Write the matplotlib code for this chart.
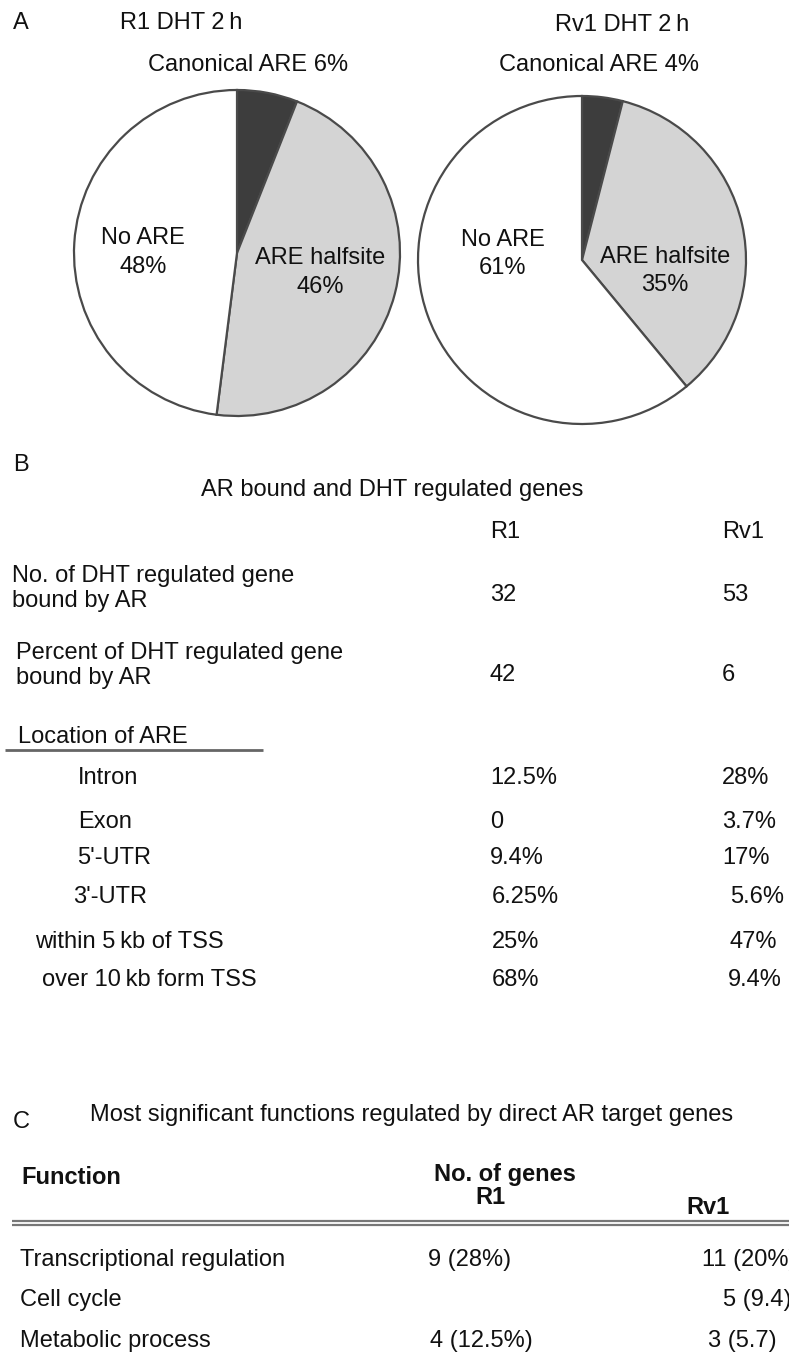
import matplotlib
matplotlib.use("Agg")
import matplotlib.pyplot as plt

plt.rcParams['font.family'] = ['Liberation Sans', 'DejaVu Sans']
plt.rcParams['font.size'] = 17

W, H = 789, 1357

# panel A - ARE content of AR binding sites
pie_names = ['Canonical ARE', 'ARE halfsite', 'No ARE']
r1_pct = [6, 46, 48]
rv1_pct = [4, 35, 61]
pie_colors = ['#3d3d3d', '#d4d4d4', '#ffffff']

# panel B - AR bound and DHT regulated genes
b_rows = ['No. of DHT regulated gene\nbound by AR', 'Percent of DHT regulated gene\nbound by AR']
b_r1 = ['32', '42']
b_rv1 = ['53', '6']
loc_rows = ['Intron', 'Exon', "5'-UTR", "3'-UTR", 'within 5\u2009kb of TSS', 'over 10\u2009kb form TSS']
loc_r1 = ['12.5%', '0', '9.4%', '6.25%', '25%', '68%']
loc_rv1 = ['28%', '3.7%', '17%', '5.6%', '47%', '9.4%']

# panel C - functions of direct AR targets
functions = ['Transcriptional regulation', 'Cell cycle', 'Metabolic process']
fn_r1 = ['9 (28%)', '', '4 (12.5%)']
fn_rv1 = ['11 (20%)', '5 (9.4)', '3 (5.7)']

fig = plt.figure(figsize=(W / 100, H / 100), dpi=100)
ax = fig.add_axes([0, 0, 1, 1])
ink = '#111111'


def txt(x, y, s, **kw):
    kw.setdefault('ha', 'left')
    kw.setdefault('va', 'center')
    kw.setdefault('color', ink)
    ax.text(x, H - y, s, **kw)


def lines(x, y, s, pitch, **kw):
    for i, part in enumerate(s.split('\n')):
        txt(x, y + i * pitch, part, **kw)


# pies (pixel coordinates, y measured from top)
for vals, cx, cy, r in [(r1_pct, 237, 253, 163), (rv1_pct, 582, 260, 164)]:
    ax.pie(vals, colors=pie_colors, startangle=90, counterclock=False,
           center=(cx, H - cy), radius=r,
           wedgeprops=dict(edgecolor='#4a4a4a', linewidth=1.6))

txt(13, 23, 'A')
txt(181, 23, 'R1 DHT 2\u2009h', ha='center')
txt(248, 65, f'{pie_names[0]} {r1_pct[0]}%', ha='center')
lines(143, 238, f'{pie_names[2]}\n{r1_pct[2]}%', 29, ha='center')
lines(320, 258, f'{pie_names[1]}\n{r1_pct[1]}%', 29, ha='center')

txt(622, 25, 'Rv1 DHT 2\u2009h', ha='center')
txt(599, 65, f'{pie_names[0]} {rv1_pct[0]}%', ha='center')
lines(503, 240, f'{pie_names[2]}\n{rv1_pct[2]}%', 28, ha='center')
lines(665, 257, f'{pie_names[1]}\n{rv1_pct[1]}%', 28, ha='center')

# panel B
txt(13, 465, 'B')
txt(392, 490, 'AR bound and DHT regulated genes', ha='center')
txt(490, 532, 'R1')
txt(722, 532, 'Rv1')
for lab, v1, v2, lx, ly, vy in zip(b_rows, b_r1, b_rv1, [12, 16], [576, 653], [595, 675]):
    lines(lx, ly, lab, 25)
    txt(490, vy, v1)
    txt(722, vy, v2)

txt(18, 737, 'Location of ARE')
ax.plot([5, 263], [H - 750, H - 750], color='#666666', lw=2, solid_capstyle='butt')

loc_x = [78, 78, 77, 73, 35, 42]
loc_y = [778, 822, 858, 897, 942, 980]
r1_x = [490, 490, 490, 492, 492, 492]
rv1_x = [722, 722, 722, 730, 730, 728]
for i, lab in enumerate(loc_rows):
    txt(loc_x[i], loc_y[i], lab)
    txt(r1_x[i], loc_y[i], loc_r1[i])
    txt(rv1_x[i], loc_y[i], loc_rv1[i])

# panel C
txt(13, 1122, 'C')
txt(90, 1115, 'Most significant functions regulated by direct AR target genes')
txt(21, 1177, 'Function', fontweight='bold')
txt(505, 1175, 'No. of genes', ha='center', fontweight='bold')
txt(490, 1197, 'R1', ha='center', fontweight='bold')
txt(708, 1208, 'Rv1', ha='center', fontweight='bold')
for yy in [1221, 1225]:
    ax.plot([12, W], [H - yy, H - yy], color='#777777', lw=1.6, solid_capstyle='butt')

fn_y = [1260, 1300, 1341]
fn_r1_x = [428, 428, 430]
fn_rv1_x = [702, 723, 708]
for i, lab in enumerate(functions):
    txt(20, fn_y[i], lab)
    txt(fn_r1_x[i], fn_y[i], fn_r1[i])
    txt(fn_rv1_x[i], fn_y[i], fn_rv1[i])

ax.set_xlim(0, W)
ax.set_ylim(0, H)
ax.set_aspect('auto')
ax.axis('off')

fig.savefig('out.png', dpi=100)
